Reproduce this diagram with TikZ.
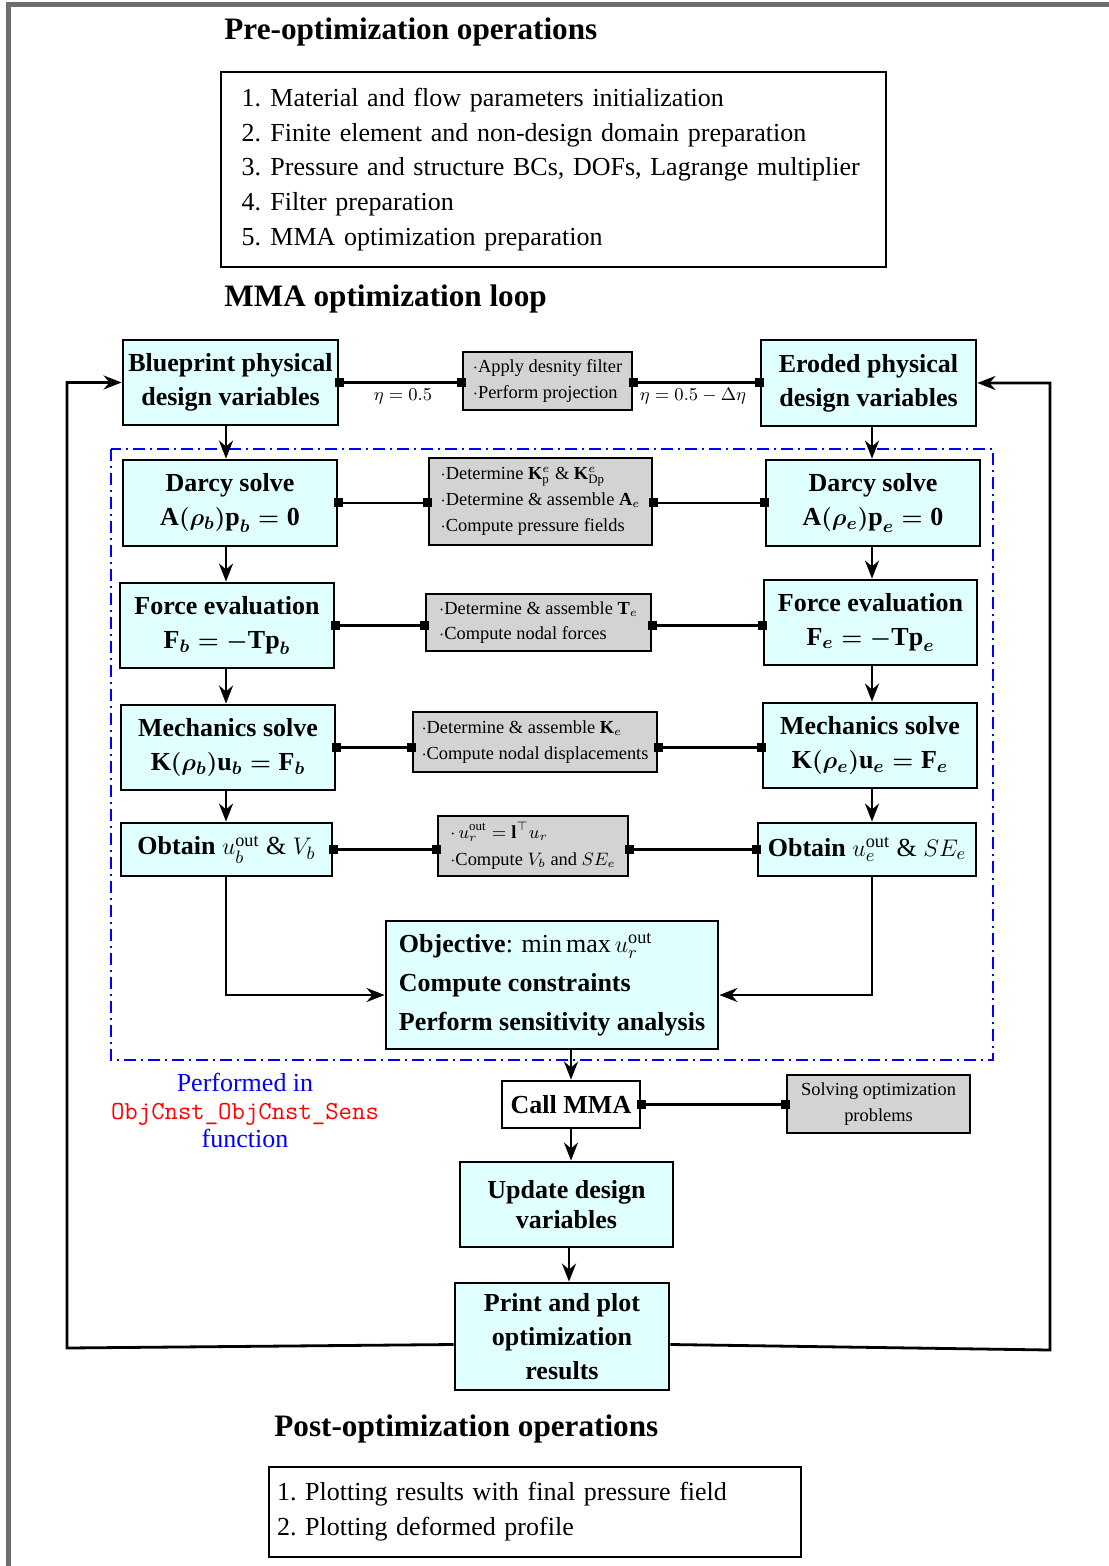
\documentclass[tikz,border=0pt]{standalone}
\usepackage{fontspec}
\setmainfont{Liberation Serif}
\usepackage{amsmath}
\usepackage{amssymb}
\usetikzlibrary{arrows.meta, positioning}
\definecolor{cyanfill}{RGB}{224,255,255}
\definecolor{opgray}{RGB}{211,211,211}
\definecolor{framegray}{RGB}{110,110,110}
\newcommand{\bv}[1]{\textbf{#1}}
\newcommand{\itm}[1]{\makebox[14.5pt][l]{#1.}}

\begin{document}
\begin{tikzpicture}[
  x=0.5pt, y=-0.5pt,
  blk/.style={rectangle, draw, line width=1.4pt, fill=cyanfill, inner sep=2pt, align=center,
    font=\fontsize{13}{17}\selectfont\bfseries\boldmath},
  op/.style={rectangle, draw, line width=1.4pt, fill=opgray, inner sep=3pt, align=left,
    font=\fontsize{9.2}{12.6}\selectfont},
  ttl/.style={anchor=west, inner sep=0pt, font=\fontsize{15.6}{18}\selectfont\bfseries},
  lst/.style={rectangle, draw, line width=1.4pt, align=left, font=\fontsize{13}{17.4}\selectfont},
  eta/.style={inner sep=0pt, font=\fontsize{9.4}{12}\selectfont},
  arr/.style={line width=1.4pt, -{Stealth[length=9pt, width=7pt]}},
  link/.style={line width=1.4pt, {Square[length=4.5pt, width=4.5pt]}-{Square[length=4.5pt, width=4.5pt]},
    shorten <=-2.25pt, shorten >=-2.25pt}
]
\useasboundingbox (0,0) rectangle (1108,1566);
\draw[framegray, line width=2.5pt] (8,1570) -- (8,5) -- (1112,5);

% Pre-optimization
\node[ttl] (pretitle) at (224,32) {Pre-optimization operations};
\node[lst, inner xsep=10.25pt, text width=312pt, minimum height=97.5pt] (prebox) at (553.5,169.5)
  {\itm{1}Material and flow parameters initialization\\
   \itm{2}Finite element and non-design domain preparation\\
   \itm{3}Pressure and structure BCs, DOFs, Lagrange multiplier\\
   \itm{4}Filter preparation\\
   \itm{5}MMA optimization preparation};

\node[ttl] (looptitle) at (224,299) {MMA optimization loop};

% Physical design variables
\node[blk, minimum width=107.5pt, minimum height=42.5pt] (blue) at (230.5,382.5) {Blueprint physical\\design variables};
\node[op, minimum width=84.5pt, minimum height=29pt] (filter) at (547.5,381)
  {$\cdot$Apply desnity filter\\$\cdot$Perform projection};
\node[blk, minimum width=107.5pt, minimum height=43pt] (ero) at (868.5,383) {Eroded physical\\design variables};
\node[eta] (etab) at (403,396) {$\eta = 0.5$};
\node[eta] (etae) at (693,396) {$\eta = 0.5 - \Delta\eta$};

% Darcy
\node[blk, minimum width=107pt, minimum height=43pt] (darcyb) at (230,503)
  {Darcy solve\\$\bv{A}(\rho_b)\bv{p}_b = \bv{0}$};
\node[op, minimum width=111.5pt, minimum height=43.5pt, font=\fontsize{9.2}{13}\selectfont] (darcyop) at (540.5,501.5)
  {$\cdot$Determine $\bv{K}_{\mathrm{p}}^{e}$ \& $\bv{K}_{\mathrm{Dp}}^{e}$\\
   $\cdot$Determine \& assemble $\bv{A}_e$\\
   $\cdot$Compute pressure fields};
\node[blk, minimum width=107pt, minimum height=43pt] (darcye) at (873,503)
  {Darcy solve\\$\bv{A}(\rho_e)\bv{p}_e = \bv{0}$};

% Force
\node[blk, minimum width=107pt, minimum height=42.5pt] (forceb) at (227,625.5)
  {Force evaluation\\$\bv{F}_b = -\bv{Tp}_b$};
\node[op, minimum width=112.5pt, minimum height=28.5pt] (forceop) at (538.5,622.5)
  {$\cdot$Determine \& assemble $\bv{T}_e$\\$\cdot$Compute nodal forces};
\node[blk, minimum width=106.5pt, minimum height=42.5pt] (forcee) at (870.5,622.5)
  {Force evaluation\\$\bv{F}_e = -\bv{Tp}_e$};

% Mechanics
\node[blk, minimum width=107pt, minimum height=42.5pt] (mechb) at (228,747.5)
  {Mechanics solve\\$\bv{K}(\rho_b)\bv{u}_b = \bv{F}_b$};
\node[op, minimum width=122pt, minimum height=30pt] (mechop) at (535,742)
  {$\cdot$Determine \& assemble $\bv{K}_e$\\$\cdot$Compute nodal displacements};
\node[blk, minimum width=107pt, minimum height=42.5pt] (meche) at (870,745.5)
  {Mechanics solve\\$\bv{K}(\rho_e)\bv{u}_e = \bv{F}_e$};

% Outputs
\node[blk, minimum width=105.5pt, minimum height=26.5pt] (outb) at (226.5,849.5)
  {Obtain {\mdseries\unboldmath$u_b^{\mathrm{out}}$ \& $V_b$}};
\node[op, minimum width=95pt, minimum height=30pt, font=\fontsize{9.2}{13.5}\selectfont] (outop) at (533,846)
  {$\cdot\, u_r^{\mathrm{out}} = \bv{l}^{\top} u_r$\\$\cdot$Compute $V_b$ and $SE_e$};
\node[blk, minimum width=109pt, minimum height=26.5pt] (oute) at (867,849.5)
  {Obtain {\mdseries\unboldmath$u_e^{\mathrm{out}}$ \& $SE_e$}};

% Objective and MMA
\node[blk, align=left, minimum width=166pt, minimum height=64pt, font=\fontsize{13}{19.5}\selectfont\bfseries] (obj) at (552,985)
  {Objective{\mdseries: $\min\max u_r^{\mathrm{out}}$}\\
   Compute constraints\\
   Perform sensitivity analysis};
\node[blk, fill=white, minimum width=69pt, minimum height=23.5pt] (call) at (571,1104.5) {Call MMA};
\node[op, align=center, minimum width=91.5pt, minimum height=29pt] (solve) at (878.5,1104)
  {Solving optimization\\problems};
\node[blk, minimum width=106.5pt, minimum height=42.5pt, font=\fontsize{13}{15}\selectfont\bfseries] (upd) at (566.5,1204.5)
  {Update design\\variables};
\node[blk, minimum width=107pt, minimum height=53.5pt] (print) at (562,1336.5)
  {Print and plot\\optimization\\results};

\node[align=center, font=\fontsize{13}{14}\selectfont] (note) at (245,1110)
  {\textcolor{blue}{Performed in}\\
   \textcolor{red}{\ttfamily ObjCnst\_ObjCnst\_Sens}\\
   \textcolor{blue}{function}};

% group frame
\draw[blue, line width=1pt, dash pattern=on 6pt off 2.5pt on 1pt off 2.5pt] (111,449) rectangle (993,1060);

% Post-optimization
\node[ttl] (posttitle) at (274,1429) {Post-optimization operations};
\node[lst, inner xsep=4pt, text width=258pt, minimum height=45pt] (postbox) at (535,1512)
  {1.~Plotting results with final pressure field\\
   2.~Plotting deformed profile\\[2pt]};

% links
\draw[link] (blue.east) -- (blue.east -| filter.west);
\draw[link] (filter.east |- blue.east) -- (ero.west |- blue.east);
\draw[link] (darcyb.east) -- (darcyb.east -| darcyop.west);
\draw[link] (darcyop.east |- darcyb.east) -- (darcye.west |- darcyb.east);
\draw[link] (forceb.east) -- (forceb.east -| forceop.west);
\draw[link] (forceop.east |- forceb.east) -- (forcee.west |- forceb.east);
\draw[link] (mechb.east) -- (mechb.east -| mechop.west);
\draw[link] (mechop.east |- mechb.east) -- (meche.west |- mechb.east);
\draw[link] (outb.east) -- (outb.east -| outop.west);
\draw[link] (outop.east |- outb.east) -- (oute.west |- outb.east);
\draw[link] (call.east) -- (call.east -| solve.west);

% flow
\draw[arr] (blue.south -| 226,0) -- (darcyb.north -| 226,0);
\draw[arr] (darcyb.south -| 226,0) -- (forceb.north -| 226,0);
\draw[arr] (forceb.south -| 226,0) -- (mechb.north -| 226,0);
\draw[arr] (mechb.south -| 226,0) -- (outb.north -| 226,0);
\draw[arr] (ero.south -| 872,0) -- (darcye.north -| 872,0);
\draw[arr] (darcye.south -| 872,0) -- (forcee.north -| 872,0);
\draw[arr] (forcee.south -| 872,0) -- (meche.north -| 872,0);
\draw[arr] (meche.south -| 872,0) -- (oute.north -| 872,0);
\draw[arr] (outb.south -| 226,0) |- ([yshift=-5pt]obj.west);
\draw[arr] (oute.south -| 872,0) |- ([yshift=-5pt]obj.east);
\draw[arr] (call.north |- obj.south) -- (call.north);
\draw[arr] (call.south) -- (call.south |- upd.north);
\draw[arr] (upd.south -| 569,0) -- (print.north -| 569,0);

% loop back
\coordinate (loopl) at (67,1348);
\coordinate (loopr) at (1050,1350);
\draw[arr] ([yshift=-4pt]print.west) -- (loopl) |- (blue.west);
\draw[arr] ([yshift=-4pt]print.east) -- (loopr) |- (ero.west -| ero.east);
\end{tikzpicture}
\end{document}
